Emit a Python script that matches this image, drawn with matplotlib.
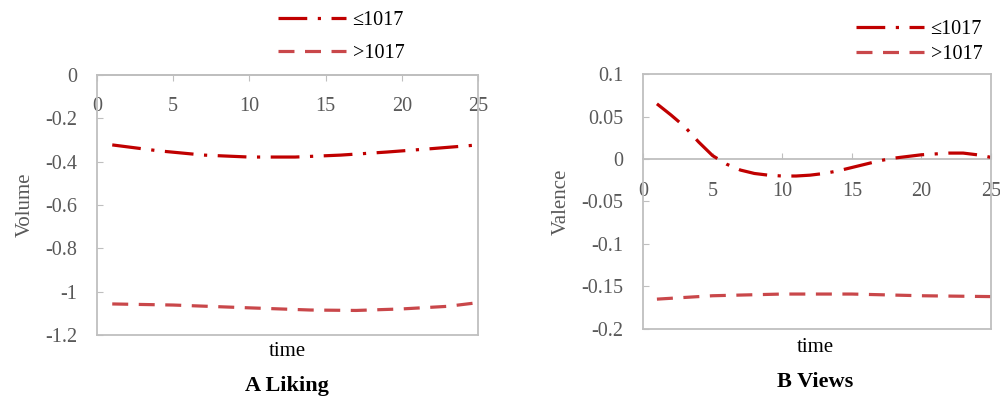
import matplotlib
matplotlib.use("Agg")
import matplotlib.pyplot as plt
import numpy as np

plt.rcParams['font.family'] = ['Liberation Serif', 'DejaVu Serif']

# ---- data ----
time_a = [1, 4, 7, 10, 13, 16, 19, 22, 25]
liking_low = [-0.323, -0.350, -0.370, -0.379, -0.379, -0.370, -0.356, -0.340, -0.323]
time_a2 = [1, 5, 10, 14, 17, 20, 23, 25]
liking_high = [-1.057, -1.062, -1.075, -1.085, -1.087, -1.080, -1.068, -1.051]

time_b = list(range(1, 26))
views_low = [0.065, 0.052, 0.038, 0.020, 0.004, -0.006, -0.013, -0.017, -0.019, -0.020,
             -0.020, -0.019, -0.017, -0.014, -0.010, -0.006, -0.002, 0.001, 0.003, 0.005,
             0.006, 0.007, 0.007, 0.005, 0.002]
time_b2 = [1, 5, 10, 15, 20, 25]
views_high = [-0.165, -0.161, -0.159, -0.159, -0.161, -0.162]

labels = ['≤1017', '>1017']
xticks = [0, 5, 10, 15, 20, 25]
yticks_a = [0, -0.2, -0.4, -0.6, -0.8, -1, -1.2]
yticks_b = [0.1, 0.05, 0, -0.05, -0.1, -0.15, -0.2]
yticklabels_a = ['0', '-0.2', '-0.4', '-0.6', '-0.8', '-1', '-1.2']
yticklabels_b = ['0.1', '0.05', '0', '-0.05', '-0.1', '-0.15', '-0.2']

c_low = '#C00000'
c_high = '#C9474A'
gray = '#BFBFBF'
tcol = '#595959'
lw = 2.3
fs = 14.5

fig = plt.figure(figsize=(10, 4.05), dpi=100)
axA = fig.add_axes([0.097, 0.173, 0.381, 0.642])
axB = fig.add_axes([0.643, 0.188, 0.348, 0.629])


def style(ax, ylim, yticks, yticklabels, tickdir, xpad, ylabel, xlabel_y, title, title_y, xc):
    ax.set_xlim(0, 25)
    ax.set_ylim(*ylim)
    for s in ax.spines.values():
        s.set_color(gray)
        s.set_linewidth(1.3)
    ax.set_yticks(yticks)
    ax.set_yticklabels(yticklabels)
    ax.tick_params(axis='y', direction='in', length=4, color=gray, labelcolor=tcol,
                   labelsize=fs, pad=14)
    ax.set_xticks([])
    loc = (0 - ylim[0]) / (ylim[1] - ylim[0])
    sec = ax.secondary_xaxis(loc)
    sec.xaxis.set_ticks_position('bottom')
    sec.xaxis.set_label_position('bottom')
    sec.set_xticks(xticks)
    for s in sec.spines.values():
        s.set_color(gray)
        s.set_linewidth(1.3)
    sec.tick_params(axis='x', direction=tickdir, length=4, color=gray, labelcolor=tcol,
                    labelsize=fs, pad=xpad)
    ax.set_ylabel(ylabel, color=tcol, fontsize=fs + 0.5, labelpad=8)
    fig.text(xc, xlabel_y, 'time', ha='center', va='center', fontsize=fs + 0.5, color='black')
    fig.text(xc, title_y, title, ha='center', va='center', fontsize=fs + 1.5,
             fontweight='bold', color='black')


dd = [9, 3.3, 1, 3.3]
ds = [5, 3.3]

l1, = axA.plot(time_a, liking_low, color=c_low, lw=lw, dashes=dd, label=labels[0])
l2, = axA.plot(time_a2, liking_high, color=c_high, lw=lw, dashes=ds, label=labels[1])
style(axA, (-1.2, 0), yticks_a, yticklabels_a, 'out', 12, 'Volume', 1 - 352 / 405,
      'A Liking', 1 - 386 / 405, 0.287)
axA.legend(handles=[l1, l2], loc='upper left', bbox_to_anchor=(0.278, 0.972),
           bbox_transform=fig.transFigure, frameon=False, fontsize=fs,
           handlelength=3.4, handletextpad=0.3, labelspacing=0.65, borderpad=0.0,
           borderaxespad=0.0)

m1, = axB.plot(time_b, views_low, color=c_low, lw=lw, dashes=dd, label=labels[0])
m2, = axB.plot(time_b2, views_high, color=c_high, lw=lw, dashes=ds, label=labels[1])
style(axB, (-0.2, 0.1), yticks_b, yticklabels_b, 'in', 16.5, 'Valence', 1 - 348 / 405,
      'B Views', 1 - 382 / 405, 0.815)
axB.legend(handles=[m1, m2], loc='upper left', bbox_to_anchor=(0.856, 0.950),
           bbox_transform=fig.transFigure, frameon=False, fontsize=fs,
           handlelength=3.4, handletextpad=0.3, labelspacing=0.3, borderpad=0.0,
           borderaxespad=0.0)

fig.savefig('out.png', dpi=100)
